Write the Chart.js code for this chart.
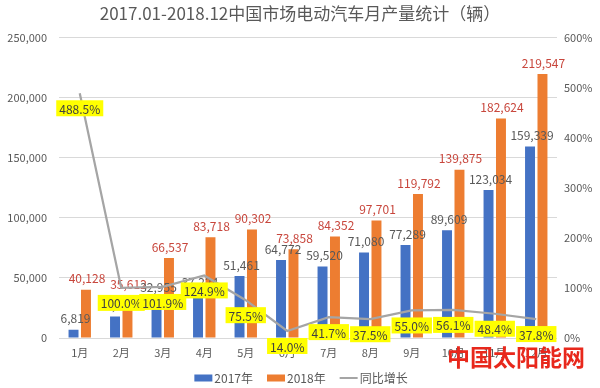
<!DOCTYPE html>
<html>
<head>
<meta charset="utf-8">
<script src="https://cdn.jsdelivr.net/npm/chart.js@4.4.1/dist/chart.umd.min.js"></script>
<style>
  html, body { margin: 0; padding: 0; background: #fff; }
  #wrap { position: relative; width: 600px; height: 388px; }
  #mark {
    position: absolute; left: 447px; top: 345px;
    font-family: "Noto Sans CJK SC", sans-serif; font-size: 23px; font-weight: bold;
    color: #e8281c; line-height: 1;
  }
</style>
</head>
<body>
<div id="wrap">
  <canvas id="myChart" width="600" height="388"></canvas>
  <div id="mark">中国太阳能网</div>
</div>
<script>
const months = ['1月', '2月', '3月', '4月', '5月', '6月', '7月', '8月', '9月', '10月', '11月', '12月'];
const output2017 = [6819, 17806, 32955, 37224, 51461, 64772, 59520, 71080, 77289, 89609, 123034, 159339];
const output2018 = [40128, 35612, 66537, 83718, 90302, 73858, 84352, 97701, 119792, 139875, 182624, 219547];
const growth = [488.5, 100.0, 101.9, 124.9, 75.5, 14.0, 41.7, 37.5, 55.0, 56.1, 48.4, 37.8];

const FONT = '"Noto Sans CJK SC", "Noto Sans", sans-serif';

// labels drawn right after each dataset, so the line and its boxes stay on top
const labelPlugin = {
  id: 'valueLabels',
  afterDatasetDraw(chart, args) {
    const ctx = chart.ctx;
    const ds = chart.data.datasets[args.index];
    ctx.save();
    ctx.textAlign = 'center';
    ctx.textBaseline = 'middle';
    ctx.font = '12px ' + FONT;
    if (ds.type === 'line') {
      args.meta.data.forEach((pt, i) => {
        const txt = growth[i].toFixed(1) + '%';
        const w = ctx.measureText(txt).width + 6;
        const h = 16;
        const cy = pt.y + 15;
        ctx.fillStyle = '#ffff00';
        ctx.fillRect(pt.x - w / 2, cy - h / 2, w, h);
        ctx.fillStyle = '#404040';
        ctx.fillText(txt, pt.x, cy + 1);
      });
    } else {
      ctx.fillStyle = ds.labelColor;
      args.meta.data.forEach((bar, i) => {
        ctx.fillText(ds.data[i].toLocaleString('en-US'), bar.x + (args.index === 0 ? 2 : 1), bar.y - 11);
      });
    }
    ctx.restore();
  },
  // bottom legend: boxes for the bars, a short stroke for the line
  afterDraw(chart) {
    const ctx = chart.ctx;
    ctx.save();
    ctx.font = '12px ' + FONT;
    ctx.textBaseline = 'middle';
    ctx.textAlign = 'left';
    const y = 378;
    const items = chart.data.datasets.map(ds => ({ ds, tw: ctx.measureText(ds.label).width }));
    const total = items.reduce((s, it) => s + 18 + 2 + it.tw, 0) + 14 * (items.length - 1);
    let x = 301 - total / 2;
    items.forEach(({ ds, tw }) => {
      if (ds.type === 'line') {
        ctx.strokeStyle = ds.borderColor;
        ctx.lineWidth = 2;
        ctx.beginPath();
        ctx.moveTo(x, y);
        ctx.lineTo(x + 18, y);
        ctx.stroke();
      } else {
        ctx.fillStyle = ds.backgroundColor;
        ctx.fillRect(x, y - 3.5, 18, 7);
      }
      ctx.fillStyle = '#595959';
      ctx.fillText(ds.label, x + 20, y);
      x += 20 + tw + 14;
    });
    ctx.restore();
  }
};

new Chart(document.getElementById('myChart'), {
  data: {
    labels: months,
    datasets: [
      {
        type: 'bar', label: '2017年', data: output2017, yAxisID: 'y',
        backgroundColor: '#4472c4', labelColor: '#595959', order: 1,
        categoryPercentage: 0.6, barPercentage: 0.8
      },
      {
        type: 'bar', label: '2018年', data: output2018, yAxisID: 'y',
        backgroundColor: '#ed7d31', labelColor: '#c8463c', order: 1,
        categoryPercentage: 0.6, barPercentage: 0.8
      },
      {
        type: 'line', label: '同比增长', data: growth, yAxisID: 'y1',
        borderColor: '#a5a5a5', backgroundColor: '#a5a5a5', borderWidth: 2.25,
        pointRadius: 0, tension: 0, order: 0
      }
    ]
  },
  options: {
    responsive: false,
    animation: false,
    layout: { padding: { bottom: 26 } },
    scales: {
      x: {
        grid: { display: false, drawTicks: false },
        border: { display: false },
        ticks: { color: '#595959', font: { family: FONT, size: 11 }, padding: 8 },
        afterFit: (s) => { s.height = 24; }
      },
      y: {
        position: 'left', min: 0, max: 250000,
        ticks: { stepSize: 50000, color: '#595959', font: { family: FONT, size: 11 }, padding: 12,
          callback: (v) => v.toLocaleString('en-US') },
        grid: { color: '#d9d9d9', drawTicks: false },
        border: { display: false },
        afterFit: (s) => { s.width = 59; }
      },
      y1: {
        position: 'right', min: 0, max: 600,
        ticks: { stepSize: 100, color: '#595959', font: { family: FONT, size: 11 }, padding: 7,
          callback: (v) => v + '%' },
        grid: { display: false, drawTicks: false },
        border: { display: false },
        afterFit: (s) => { s.width = 43; }
      }
    },
    plugins: {
      title: {
        display: true,
        text: '2017.01-2018.12中国市场电动汽车月产量统计（辆）',
        color: '#595959',
        font: { family: FONT, size: 17, weight: 'normal' },
        padding: { top: 3, bottom: 14 }
      },
      legend: { display: false },
      tooltip: { enabled: false }
    }
  },
  plugins: [labelPlugin]
});
</script>
</body>
</html>
